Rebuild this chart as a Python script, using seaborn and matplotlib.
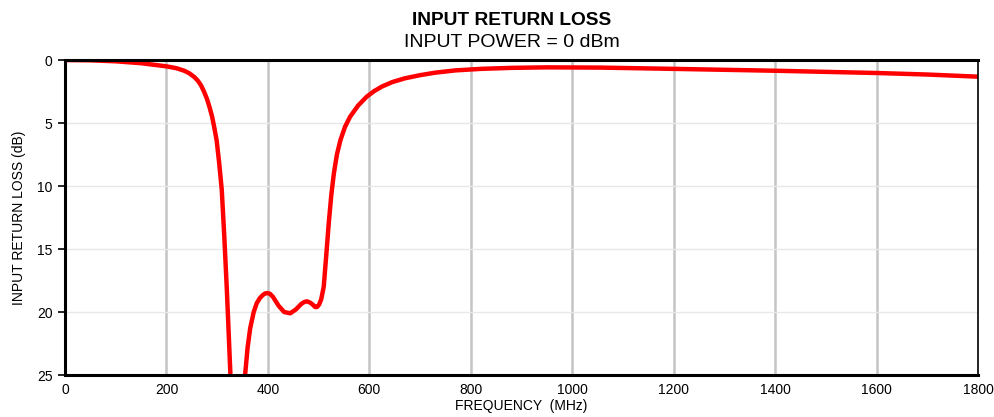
import matplotlib
matplotlib.use("Agg")
import matplotlib.pyplot as plt
import seaborn as sns
import pandas as pd

# Input return loss vs frequency (MHz, dB)
freq_mhz = [0, 50, 100, 150, 200, 220, 235, 245, 255, 262, 268, 274, 280, 285,
            290, 294, 299, 304, 309, 314, 319, 323, 326, 330, 340, 350, 355,
            360, 365, 372, 378, 384, 390, 395, 399, 404, 410, 421, 432, 444,
            455, 466, 472, 477, 483, 488, 493, 497, 501, 505, 510, 515, 520,
            525, 530, 536, 543, 552, 562, 578, 595, 610, 625, 645, 670, 700,
            730, 770, 820, 880, 950, 1056, 1200, 1401, 1602, 1700, 1800]
return_loss_db = [0.0, 0.02, 0.1, 0.25, 0.5, 0.65, 0.85, 1.05, 1.35, 1.65, 2.0,
                  2.5, 3.1, 3.75, 4.5, 5.3, 6.4, 8.2, 10.3, 14.0, 18.2, 22.0,
                  24.9, 28.5, 32.0, 28.0, 25.0, 22.8, 21.3, 20.0, 19.3, 18.9,
                  18.65, 18.52, 18.5, 18.55, 18.8, 19.5, 20.0, 20.1, 19.8, 19.35,
                  19.2, 19.15, 19.25, 19.4, 19.6, 19.6, 19.4, 19.0, 18.0, 15.5,
                  12.9, 10.7, 9.0, 7.5, 6.35, 5.3, 4.5, 3.6, 2.9, 2.45, 2.1,
                  1.75, 1.45, 1.2, 1.0, 0.82, 0.7, 0.62, 0.58, 0.6, 0.7, 0.85,
                  1.03, 1.15, 1.32]

x_ticks = [0, 200, 400, 600, 800, 1000, 1200, 1400, 1600, 1800]
y_ticks = [0, 5, 10, 15, 20, 25]

sns.set_style("white")
plt.rcParams["font.family"] = ["Liberation Sans", "DejaVu Sans"]
plt.rcParams.update({"text.color": "black", "axes.labelcolor": "black",
                     "xtick.color": "black", "ytick.color": "black"})

df = pd.DataFrame({"freq": freq_mhz, "rl": return_loss_db})

fig = plt.figure(figsize=(9.94, 4.17), dpi=100)
ax = fig.add_axes([0.0654, 0.1007, 0.9186, 0.7553])

for xv in x_ticks[1:-1]:
    ax.axvline(xv, color="#c4c4c4", lw=1.8, zorder=1)
for yv in y_ticks[1:-1]:
    ax.axhline(yv, color="#e8e8e8", lw=1.0, zorder=1)

sns.lineplot(data=df, x="freq", y="rl", ax=ax, color="#ff0000", lw=3.2,
             sort=False, zorder=3)
ax.lines[-1].set_solid_joinstyle("round")

ax.set_xlim(0, 1800)
ax.set_ylim(25, 0)
ax.set_xticks(x_ticks)
ax.set_yticks(y_ticks)
ax.tick_params(axis="x", length=0, labelsize=10, pad=6)
ax.tick_params(axis="y", length=5, width=1.2, labelsize=10, pad=4, left=True)

for side in ["top", "bottom", "left"]:
    ax.spines[side].set_linewidth(2.2)
    ax.spines[side].set_color("black")
ax.spines["right"].set_linewidth(1.2)
ax.spines["right"].set_color("black")
for s in ax.spines.values():
    s.set_zorder(4)

ax.set_xlabel("FREQUENCY  (MHz)", fontsize=10, labelpad=1)
ax.set_ylabel("INPUT RETURN LOSS (dB)", fontsize=10, labelpad=8)

fig.text(0.515, 0.950, "INPUT RETURN LOSS", ha="center", va="center",
         fontsize=13.8, fontweight="bold")
fig.text(0.515, 0.898, "INPUT POWER = 0 dBm", ha="center", va="center",
         fontsize=14)

fig.savefig("out.png", dpi=100)
